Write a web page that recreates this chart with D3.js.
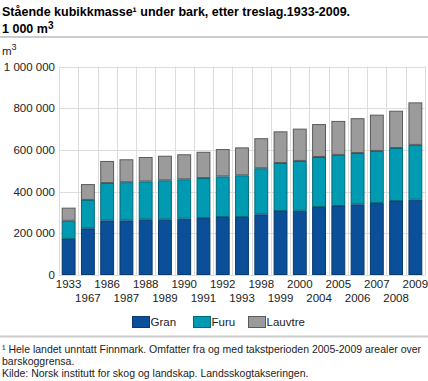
<!DOCTYPE html>
<html><head><meta charset="utf-8">
<script src="https://cdn.jsdelivr.net/npm/d3@7"></script>
<style>
html,body{margin:0;padding:0;background:#fff;}
svg{display:block;font-family:"Liberation Sans",Arial,sans-serif;}
</style></head>
<body><svg id="c" width="428" height="381"></svg>
<script>
const years = ["1933","1967","1986","1987","1988","1989","1990","1991","1992","1993","1998","1999","2000","2004","2005","2006","2007","2008","2009"];
const gran    = [173,224,262,262,267,267,270,273,278,278,291,307,308,326,331,339,345,355,361];
const furu    = [87,136,179,183,182,187,189,192,195,200,221,230,239,240,245,246,250,254,263];
const lauvtre = [63,76,106,110,117,118,120,126,131,134,144,152,155,158,163,167,174,179,204];
const seriesNames = ["Gran","Furu","Lauvtre"];
const colors = ["#0a4f97","#009bb2","#9b9b9b"];
const strokes = ["#0a3a6e","#006a78","#5a5a5a"];
const yTicks = [0,200000,400000,600000,800000,1000000];

const svg = d3.select("#c");
const L = 59, R = 425, T = 66.5, B = 275;

const x = d3.scaleBand().domain(years).range([L,R]).paddingInner(0.28).paddingOuter(0.14);
const y = d3.scaleLinear().domain([0,1000000]).range([B,T]);

// Title
svg.append("text").attr("x",2).attr("y",16).attr("font-size",12.5).attr("font-weight","bold").attr("fill","#000")
  .text("Stående kubikkmasse¹ under bark, etter treslag.1933-2009.");
const t2 = svg.append("text").attr("x",2).attr("y",33).attr("font-size",12.5).attr("font-weight","bold").attr("fill","#000");
t2.append("tspan").text("1 000 m");
t2.append("tspan").attr("font-size",10).attr("dy",-4).text("3");
svg.append("line").attr("x1",0).attr("x2",428).attr("y1",37).attr("y2",37).attr("stroke","#bbbbbb").attr("stroke-width",1.5);

// unit
const u = svg.append("text").attr("x",2).attr("y",55).attr("font-size",11.5).attr("fill","#222");
u.append("tspan").text("m");
u.append("tspan").attr("font-size",9).attr("dy",-5).text("3");

// Gridlines
const grid = svg.append("g");
grid.selectAll("line.h").data(yTicks).join("line")
  .attr("x1",L).attr("x2",R).attr("y1",d=>Math.round(y(d))+0.5).attr("y2",d=>Math.round(y(d))+0.5)
  .attr("stroke","#dcdcdc").attr("stroke-width",1);
const vlines = d3.range(years.length+1).map(i => L + i*(R-L)/years.length);
grid.selectAll("line.v").data(vlines).join("line")
  .attr("x1",d=>Math.round(d)+0.5).attr("x2",d=>Math.round(d)+0.5).attr("y1",T).attr("y2",B)
  .attr("stroke","#dcdcdc").attr("stroke-width",1);

// Y axis labels
const fmt = v => d3.format(",")(v).replace(/,/g," ");
const yAxis = d3.axisLeft(y).tickValues(yTicks).tickFormat(fmt).tickSize(0).tickPadding(4);
const ya = svg.append("g").attr("transform",`translate(${L},0)`).call(yAxis);
ya.select(".domain").remove();
ya.selectAll("text").attr("font-size",11.5).attr("fill","#222").attr("font-family","Liberation Sans, Arial, sans-serif");

// Stacked bars
const data = years.map((yr,i)=>({year:yr, Gran:gran[i]*1000, Furu:furu[i]*1000, Lauvtre:lauvtre[i]*1000}));
const stack = d3.stack().keys(seriesNames)(data);
svg.append("g").selectAll("g").data(stack).join("g")
  .attr("fill",(d,i)=>colors[i]).attr("stroke",(d,i)=>strokes[i])
  .selectAll("rect").data(d=>d).join("rect")
  .attr("x",d=>x(d.data.year)+0.5).attr("width",x.bandwidth()-1)
  .attr("y",d=>y(d[1])+0.5).attr("height",d=>Math.max(0,y(d[0])-y(d[1])-1))
  .attr("stroke-width",1);

// X labels
const xa = svg.append("g");
xa.selectAll("text").data(years).join("text")
  .attr("x",d=>x(d)+x.bandwidth()/2)
  .attr("y",(d,i)=> i%2===0 ? 288 : 302)
  .attr("text-anchor","middle").attr("font-size",11.5).attr("fill","#222")
  .text(d=>d);

// Legend
const legX = [132,193,248];
const lg = svg.append("g");
seriesNames.forEach((s,i)=>{
  lg.append("rect").attr("x",legX[i]+0.5).attr("y",316.5).attr("width",17).attr("height",11)
    .attr("fill",colors[i]).attr("stroke",strokes[i]).attr("stroke-width",1);
  lg.append("text").attr("x",legX[i]+18.5).attr("y",326).attr("font-size",11.5).attr("fill","#222").text(s);
});

svg.append("line").attr("x1",0).attr("x2",428).attr("y1",336.5).attr("y2",336.5).attr("stroke","#cccccc").attr("stroke-width",2);

// Footnotes
svg.append("text").attr("x",2).attr("y",353).attr("font-size",10.5).attr("fill","#222")
  .text("¹ Hele landet unntatt Finnmark. Omfatter fra og med takstperioden 2005-2009 arealer over");
svg.append("text").attr("x",2).attr("y",365).attr("font-size",10.5).attr("fill","#222").text("barskoggrensa.");
svg.append("text").attr("x",2).attr("y",377).attr("font-size",10.5).attr("fill","#222").text("Kilde: Norsk institutt for skog og landskap. Landsskogtakseringen.");
</script></body></html>
